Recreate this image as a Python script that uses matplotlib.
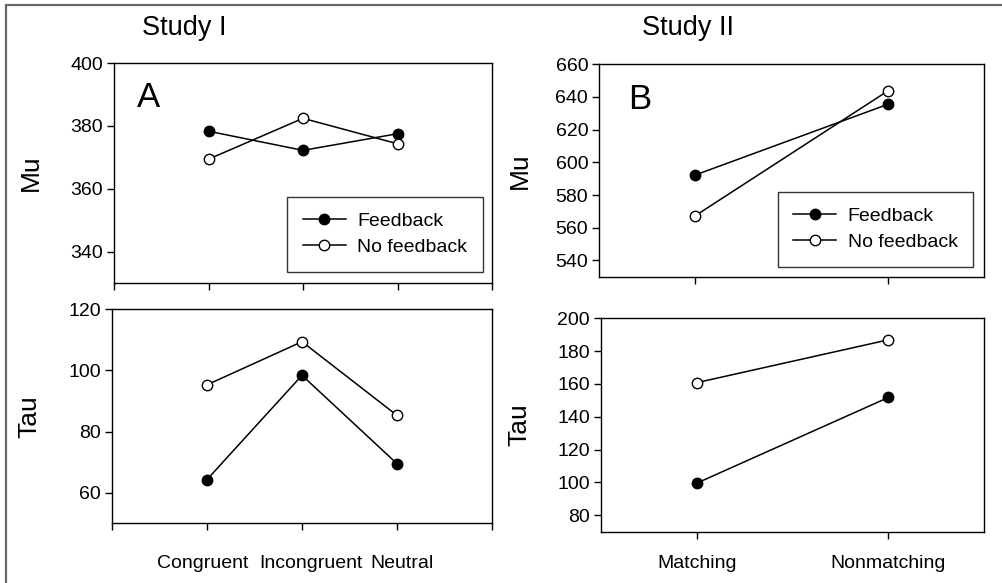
import matplotlib
matplotlib.use("Agg")
import matplotlib.pyplot as plt
from matplotlib.patches import Rectangle
from matplotlib.transforms import ScaledTranslation

plt.rcParams['font.family'] = ['Liberation Sans', 'DejaVu Sans']

# Study I (panel A)
cond_1 = ["Congruent", "Incongruent", "Neutral"]
mu_fb_1 = [378.3, 372.2, 377.5]
mu_nofb_1 = [369.4, 382.4, 374.3]
tau_fb_1 = [64.3, 98.4, 69.5]
tau_nofb_1 = [95.3, 109.4, 85.3]

# Study II (panel B)
cond_2 = ["Matching", "Nonmatching"]
mu_fb_2 = [592.3, 635.5]
mu_nofb_2 = [567.4, 643.7]
tau_fb_2 = [99.6, 151.8]
tau_nofb_2 = [160.8, 186.9]

W, H = 1003, 583
fig = plt.figure(figsize=(W / 100, H / 100), dpi=100)

def rect(x0, y0, x1, y1):
    # pixel box -> figure fraction
    return [x0 / W, 1 - y1 / H, (x1 - x0) / W, (y1 - y0) / H]

# outer frame
fig.patches.append(Rectangle((6 / W, -0.1), 1.2, 1 - 5 / H + 0.1, transform=fig.transFigure,
                             fill=False, edgecolor='#666666', lw=1.6))

fs = 14
line_kw = dict(color='black', lw=1.1, marker='o', markersize=7.5, markeredgewidth=1.0,
               markeredgecolor='black')


def style(ax, xpad=3):
    for s in ax.spines.values():
        s.set_linewidth(1.0)
    ax.tick_params(axis='both', direction='out', length=5, width=1.0, labelsize=fs, pad=3)
    ax.tick_params(axis='x', pad=xpad)


def draw(ax, x, fb, nofb):
    ax.plot(x, fb, markerfacecolor='black', label='Feedback', zorder=3, **line_kw)
    ax.plot(x, nofb, markerfacecolor='white', label='No feedback', zorder=3, **line_kw)


def legend(ax, anchor):
    leg = ax.legend(loc='lower right', bbox_to_anchor=anchor, fontsize=fs,
                    fancybox=False, edgecolor='#333333', framealpha=1, borderaxespad=0,
                    handlelength=2.2, borderpad=0.8, labelspacing=0.45, handletextpad=0.6)
    leg.get_frame().set_linewidth(1.0)


# Panel A top
axA1 = fig.add_axes(rect(114, 63, 492, 283))
xs1 = [1, 2, 3]
draw(axA1, xs1, mu_fb_1, mu_nofb_1)
axA1.set_xlim(0, 4)
axA1.set_ylim(330, 400)
axA1.set_yticks([340, 360, 380, 400])
axA1.set_xticks([0, 1, 2, 3, 4])
axA1.set_xticklabels([])
axA1.set_ylabel("Mu", fontsize=19)
axA1.yaxis.set_label_coords(-0.189, 0.5)
axA1.text(0.061, 0.843, "A", transform=axA1.transAxes, fontsize=25, va='center', ha='left')
style(axA1)
legend(axA1, (0.976, 0.051))

# Panel A bottom
axA2 = fig.add_axes(rect(112, 309.3, 492, 523.3))
draw(axA2, xs1, tau_fb_1, tau_nofb_1)
axA2.set_xlim(0, 4)
axA2.set_ylim(50, 120)
axA2.set_yticks([60, 80, 100, 120])
axA2.set_xticks([0, 1, 2, 3, 4])
axA2.set_xticklabels([""] + cond_1 + [""])
axA2.set_ylabel("Tau", fontsize=19)
axA2.yaxis.set_label_coords(-0.185, 0.5)
style(axA2, xpad=18)
# spread the crowded category labels a little, as in the original
for lab, dx in zip(axA2.get_xticklabels()[1:4], [-4, 9, 5]):
    lab.set_transform(lab.get_transform() + ScaledTranslation(dx / 100, 0, fig.dpi_scale_trans))

# Panel B top
axB1 = fig.add_axes(rect(599.3, 64.3, 984, 276.7))
xs2 = [0, 1]
draw(axB1, xs2, mu_fb_2, mu_nofb_2)
axB1.set_xlim(-0.5, 1.5)
axB1.set_ylim(530, 660)
axB1.set_yticks(range(540, 661, 20))
axB1.set_xticks(xs2)
axB1.set_xticklabels([])
axB1.set_ylabel("Mu", fontsize=19)
axB1.yaxis.set_label_coords(-0.176, 0.5)
axB1.text(0.0746, 0.834, "B", transform=axB1.transAxes, fontsize=25, va='center', ha='left')
style(axB1)
legend(axB1, (0.972, 0.047))

# Panel B bottom
axB2 = fig.add_axes(rect(601, 318.3, 984.3, 531.7))
draw(axB2, xs2, tau_fb_2, tau_nofb_2)
axB2.set_xlim(-0.5, 1.5)
axB2.set_ylim(70, 200)
axB2.set_yticks(range(80, 201, 20))
axB2.set_xticks(xs2)
axB2.set_xticklabels(cond_2)
axB2.set_ylabel("Tau", fontsize=19)
axB2.yaxis.set_label_coords(-0.181, 0.5)
style(axB2, xpad=12)

fig.text(184 / W, 1 - 28 / H, "Study I", fontsize=19.5, ha='center', va='center')
fig.text(688 / W, 1 - 28 / H, "Study II", fontsize=19.5, ha='center', va='center')

fig.savefig("out.png", dpi=100)
